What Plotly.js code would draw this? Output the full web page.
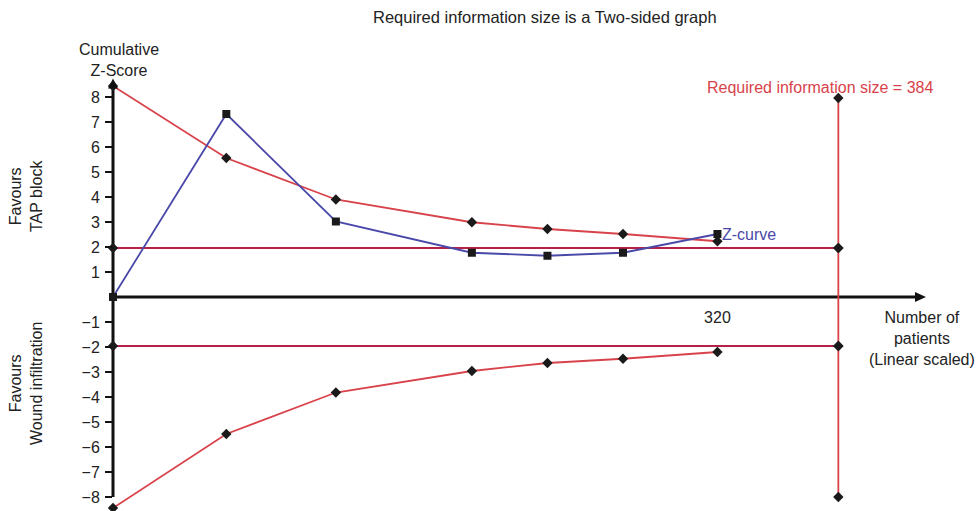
<!DOCTYPE html>
<html>
<head>
<meta charset="utf-8">
<script src="https://cdn.plot.ly/plotly-3.0.1.min.js"></script>
<style>html,body{margin:0;padding:0;background:#fff;}#chart{width:979px;height:511px;}</style>
</head>
<body>
<div id="chart"></div>
<script>
// Data
const patients = [0, 60, 118, 190, 230, 270, 320];
const zCurve = [0, 7.32, 3.02, 1.77, 1.65, 1.77, 2.52];
const upperBoundary = [8.44, 5.56, 3.9, 2.99, 2.72, 2.52, 2.23];
const lowerBoundary = [-8.44, -5.48, -3.82, -2.96, -2.64, -2.47, -2.2];
const requiredSize = 384;
const ris_top = 7.96;
const ris_bottom = -8.0;
const conventional = 1.96;
const yTicks = [-8, -7, -6, -5, -4, -3, -2, -1, 1, 2, 3, 4, 5, 6, 7, 8];
const xTicks = [320];

const RED = '#d8434b';
const CRIMSON = '#b32147';
const BLUE = '#4a48a8';
const INK = '#222222';
const FONT = 'Liberation Sans, Arial, sans-serif';

const diamond = {symbol: 'diamond', size: 8, color: '#1a1a1a'};
const square = {symbol: 'square', size: 8, color: '#1a1a1a'};

const traces = [
  {x: [0, requiredSize], y: [conventional, conventional], mode: 'lines+markers',
   line: {color: CRIMSON, width: 2.2}, marker: diamond},
  {x: [0, requiredSize], y: [-conventional, -conventional], mode: 'lines+markers',
   line: {color: CRIMSON, width: 2.2}, marker: diamond},
  {x: [requiredSize, requiredSize, requiredSize, requiredSize],
   y: [ris_top, conventional, -conventional, ris_bottom], mode: 'lines+markers',
   line: {color: RED, width: 1.8}, marker: diamond},
  {x: patients, y: upperBoundary, mode: 'lines+markers',
   line: {color: RED, width: 1.8}, marker: diamond},
  {x: patients, y: lowerBoundary, mode: 'lines+markers',
   line: {color: RED, width: 1.8}, marker: diamond},
  {x: patients, y: zCurve, mode: 'lines+markers',
   line: {color: BLUE, width: 1.8}, marker: square}
];
traces.forEach(t => { t.type = 'scatter'; t.cliponaxis = false; t.showlegend = false; t.hoverinfo = 'skip'; });

const L = 113, R = 50, T = 77, H = 511, W = 979;
const Y0 = -8.56, Y1 = 8.8;
const py = v => (v - Y0) / (Y1 - Y0);   // data y -> paper fraction
function px(xp, yp, text, size, color, angle) {
  return {xref: 'paper', yref: 'paper', xanchor: 'center', yanchor: 'middle',
    x: (xp - L) / (W - L - R), y: (H - yp) / (H - T),
    text: text, showarrow: false, textangle: angle || 0,
    font: {size: size, color: color || INK}};
}

const layout = {
  width: W, height: H,
  margin: {l: L, r: R, t: T, b: 0},
  paper_bgcolor: '#fff', plot_bgcolor: 'rgba(0,0,0,0)',
  font: {family: FONT, color: INK, size: 16},
  showlegend: false,
  xaxis: {
    range: [0, 432], showgrid: false, zeroline: false,
    anchor: 'free', position: py(0),
    showline: false,
    tickvals: xTicks, ticktext: xTicks.map(String), ticks: '',
    tickfont: {size: 16, color: INK}, ticklabelstandoff: 9
  },
  yaxis: {
    range: [Y0, Y1], showgrid: false, zeroline: false, showline: false,
    tickvals: yTicks, ticktext: yTicks.map(v => v < 0 ? '\u2212' + Math.abs(v) : String(v)),
    ticks: 'outside', ticklen: 7, tickwidth: 2, tickcolor: '#111',
    tickfont: {size: 16, color: INK}, ticklabelstandoff: 2
  },
  shapes: [
    // y axis line
    {type: 'line', xref: 'paper', yref: 'paper', x0: 0, x1: 0, y0: py(ris_bottom), y1: py(8.5),
     line: {color: '#111', width: 3}, layer: 'below'},
    // x axis line
    {type: 'line', xref: 'paper', yref: 'paper', x0: 0, x1: 425 / 432, y0: py(0), y1: py(0),
     line: {color: '#111', width: 3}, layer: 'below'},
    // arrow heads (pixel sized)
    {type: 'path', xref: 'paper', yref: 'paper', xsizemode: 'pixel', ysizemode: 'pixel',
     xanchor: 0, yanchor: py(8.74), path: 'M 0 0 L -5 -10 L 5 -10 Z',
     fillcolor: '#111', line: {width: 0}, layer: 'above'},
    {type: 'path', xref: 'paper', yref: 'paper', xsizemode: 'pixel', ysizemode: 'pixel',
     xanchor: 430.4 / 432, yanchor: py(0), path: 'M 0 0 L -11 5 L -11 -5 Z',
     fillcolor: '#111', line: {width: 0}, layer: 'above'}
  ],
  annotations: [
    px(545, 17, 'Required information size is a Two-sided graph', 16.5),
    px(119, 60, 'Cumulative<br>Z-Score', 16),
    px(820, 87, 'Required information size = 384', 16, RED),
    {xref: 'x', yref: 'y', x: 321.5, y: 2.52, xanchor: 'left', yanchor: 'middle', text: 'Z-curve', showarrow: false, font: {size: 16, color: BLUE}},
    px(922, 338, 'Number of<br>patients<br>(Linear scaled)', 16),
    px(26, 196, 'Favours<br>TAP block', 16, INK, -90),
    px(26, 384, 'Favours<br>Wound infiltration', 16, INK, -90)
  ]
};

Plotly.newPlot('chart', traces, layout, {displayModeBar: false, staticPlot: true});
</script>
</body>
</html>
